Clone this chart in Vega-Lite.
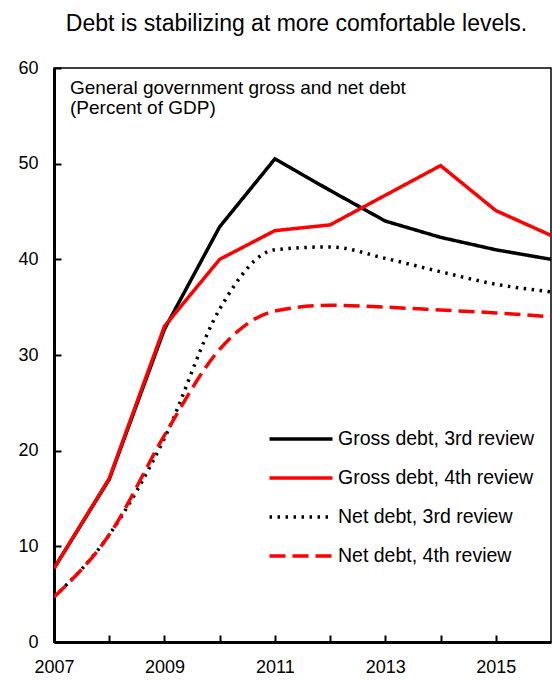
{
  "$schema": "https://vega.github.io/schema/vega-lite/v6.json",
  "width": 497,
  "height": 574,
  "autosize": {"type": "none"},
  "padding": {"left": 54, "top": 68, "right": 1, "bottom": 38},
  "config": {
    "font": "Liberation Sans",
    "view": {"stroke": "black", "strokeWidth": 1.5},
    "axis": {"domainColor": "black", "domainWidth": 3, "tickColor": "black", "tickWidth": 2, "tickSize": -7, "labelColor": "black", "labelFontSize": 18, "grid": false, "title": null}
  },
  "title": {"text": "Debt is stabilizing at more comfortable levels.", "fontSize": 23, "fontWeight": "normal", "anchor": "middle", "color": "black", "offset": 23, "dx": -6},
  "data": {"values": [
    {"year": 2007, "series": "Gross debt, 3rd review", "value": 7.7},
    {"year": 2008, "series": "Gross debt, 3rd review", "value": 17.0},
    {"year": 2009, "series": "Gross debt, 3rd review", "value": 32.7},
    {"year": 2010, "series": "Gross debt, 3rd review", "value": 43.4},
    {"year": 2011, "series": "Gross debt, 3rd review", "value": 50.5},
    {"year": 2012, "series": "Gross debt, 3rd review", "value": 47.2},
    {"year": 2013, "series": "Gross debt, 3rd review", "value": 44.0},
    {"year": 2014, "series": "Gross debt, 3rd review", "value": 42.3},
    {"year": 2015, "series": "Gross debt, 3rd review", "value": 41.0},
    {"year": 2016, "series": "Gross debt, 3rd review", "value": 40.0},
    {"year": 2007, "series": "Gross debt, 4th review", "value": 7.7},
    {"year": 2008, "series": "Gross debt, 4th review", "value": 17.1},
    {"year": 2009, "series": "Gross debt, 4th review", "value": 33.0},
    {"year": 2010, "series": "Gross debt, 4th review", "value": 40.0},
    {"year": 2011, "series": "Gross debt, 4th review", "value": 43.0},
    {"year": 2012, "series": "Gross debt, 4th review", "value": 43.6},
    {"year": 2013, "series": "Gross debt, 4th review", "value": 46.7},
    {"year": 2014, "series": "Gross debt, 4th review", "value": 49.8},
    {"year": 2015, "series": "Gross debt, 4th review", "value": 45.1},
    {"year": 2016, "series": "Gross debt, 4th review", "value": 42.5},
    {"year": 2007, "series": "Net debt, 3rd review", "value": 4.7},
    {"year": 2008, "series": "Net debt, 3rd review", "value": 11.2},
    {"year": 2009, "series": "Net debt, 3rd review", "value": 21.3},
    {"year": 2010, "series": "Net debt, 3rd review", "value": 34.8},
    {"year": 2011, "series": "Net debt, 3rd review", "value": 41.0},
    {"year": 2012, "series": "Net debt, 3rd review", "value": 41.3},
    {"year": 2013, "series": "Net debt, 3rd review", "value": 40.1},
    {"year": 2014, "series": "Net debt, 3rd review", "value": 38.7},
    {"year": 2015, "series": "Net debt, 3rd review", "value": 37.4},
    {"year": 2016, "series": "Net debt, 3rd review", "value": 36.6},
    {"year": 2007, "series": "Net debt, 4th review", "value": 4.7},
    {"year": 2008, "series": "Net debt, 4th review", "value": 11.2},
    {"year": 2009, "series": "Net debt, 4th review", "value": 21.6},
    {"year": 2010, "series": "Net debt, 4th review", "value": 30.6},
    {"year": 2011, "series": "Net debt, 4th review", "value": 34.6},
    {"year": 2012, "series": "Net debt, 4th review", "value": 35.2},
    {"year": 2013, "series": "Net debt, 4th review", "value": 35.0},
    {"year": 2014, "series": "Net debt, 4th review", "value": 34.7},
    {"year": 2015, "series": "Net debt, 4th review", "value": 34.4},
    {"year": 2016, "series": "Net debt, 4th review", "value": 34.0}
  ]},
  "encoding": {
    "x": {"field": "year", "type": "quantitative", "scale": {"domain": [2007, 2016], "nice": false, "zero": false},
      "axis": {"values": [2007, 2008, 2009, 2010, 2011, 2012, 2013, 2014, 2015], "format": "d", "labelExpr": "datum.value % 2 == 1 ? datum.label : ''", "labelPadding": 23, "labelFlush": false}},
    "y": {"field": "value", "type": "quantitative", "scale": {"domain": [0, 60], "nice": false},
      "axis": {"values": [0, 10, 20, 30, 40, 50, 60], "labelPadding": 23}}
  },
  "layer": [
    {
      "transform": [{"filter": "indexof(datum.series, 'Gross') == 0"}],
      "mark": {"type": "line", "strokeWidth": 3.5, "clip": true},
      "encoding": {
        "color": {"field": "series", "type": "nominal",
          "scale": {"domain": ["Gross debt, 3rd review", "Gross debt, 4th review", "Net debt, 3rd review", "Net debt, 4th review"], "range": ["black", "#FF0000", "black", "#FF0000"]},
          "legend": {"title": null, "orient": "none", "legendX": 230, "legendY": 354, "symbolType": "M-2.1,0H2.1", "symbolSize": 900, "symbolStrokeWidth": 3.5, "labelFontSize": 19.5, "labelColor": "black", "labelOffset": 20, "rowPadding": 12, "labelLimit": 300}},
        "strokeDash": {"field": "series", "type": "nominal",
          "scale": {"domain": ["Gross debt, 3rd review", "Gross debt, 4th review", "Net debt, 3rd review", "Net debt, 4th review"], "range": [[1, 0], [1, 0], [2.5, 5.5], [16, 7]]},
          "legend": {"title": null, "orient": "none", "legendX": 230, "legendY": 354, "symbolType": "M-2.1,0H2.1", "symbolSize": 900, "symbolStrokeWidth": 3.5, "labelFontSize": 19.5, "labelColor": "black", "labelOffset": 20, "rowPadding": 12, "labelLimit": 300}}
      }
    },
    {
      "transform": [{"filter": "indexof(datum.series, 'Net') == 0"}],
      "mark": {"type": "line", "strokeWidth": 3.5, "interpolate": "monotone", "clip": true},
      "encoding": {
        "color": {"field": "series", "type": "nominal"},
        "strokeDash": {"field": "series", "type": "nominal"}
      }
    },
    {
      "transform": [{"filter": "datum.year == 2007 && datum.series == 'Gross debt, 3rd review'"}],
      "mark": {"type": "text", "text": ["General government gross and net debt", "(Percent of GDP)"], "align": "left", "baseline": "top", "fontSize": 19, "lineHeight": 20, "color": "black"},
      "encoding": {"x": {"datum": 2007.29}, "y": {"datum": 58.9}}
    }
  ]
}
